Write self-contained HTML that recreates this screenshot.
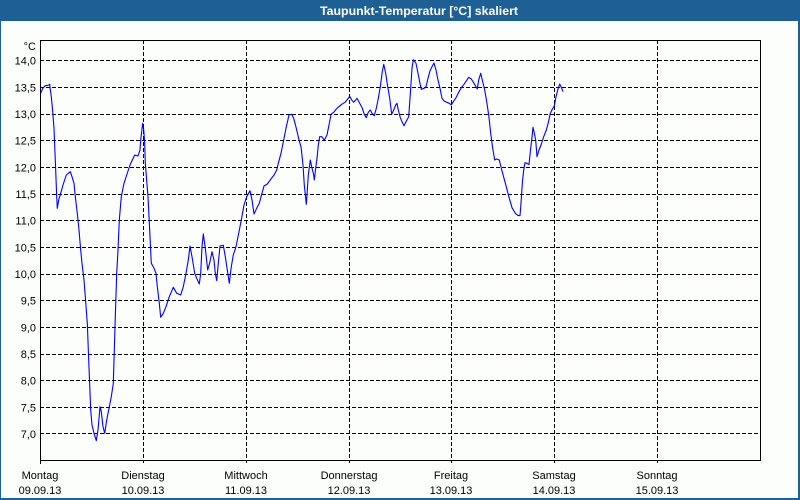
<!DOCTYPE html>
<html>
<head>
<meta charset="utf-8">
<style>
  html,body{margin:0;padding:0;background:#fcfefc;}
  svg{display:block;}
  text{font-family:"Liberation Sans", "DejaVu Sans", sans-serif;font-size:11px;fill:#000;}
</style>
</head>
<body>
<svg width="800" height="500" viewBox="0 0 800 500" xmlns="http://www.w3.org/2000/svg">
  <rect x="0" y="0" width="800" height="500" fill="#fcfefc"/>
  <!-- window frame -->
  <rect x="0" y="0" width="800" height="21" fill="#1e6094"/>
  <rect x="0" y="0" width="1" height="500" fill="#1e6094"/>
  <rect x="798" y="0" width="2" height="500" fill="#1e6094"/>
  <rect x="0" y="498" width="800" height="2" fill="#1e6094"/>
  <text x="419" y="15" text-anchor="middle" style="font-weight:bold;font-size:12px;fill:#fff" textLength="198" lengthAdjust="spacingAndGlyphs">Taupunkt-Temperatur [°C] skaliert</text>

  <!-- horizontal dashed grid -->
  <g stroke="#000" stroke-width="1" stroke-dasharray="4,2" shape-rendering="crispEdges">
    <line x1="40" y1="60.5" x2="760" y2="60.5"/>
    <line x1="40" y1="87.5" x2="760" y2="87.5"/>
    <line x1="40" y1="114.5" x2="760" y2="114.5"/>
    <line x1="40" y1="140.5" x2="760" y2="140.5"/>
    <line x1="40" y1="167.5" x2="760" y2="167.5"/>
    <line x1="40" y1="194.5" x2="760" y2="194.5"/>
    <line x1="40" y1="220.5" x2="760" y2="220.5"/>
    <line x1="40" y1="247.5" x2="760" y2="247.5"/>
    <line x1="40" y1="274.5" x2="760" y2="274.5"/>
    <line x1="40" y1="300.5" x2="760" y2="300.5"/>
    <line x1="40" y1="327.5" x2="760" y2="327.5"/>
    <line x1="40" y1="354.5" x2="760" y2="354.5"/>
    <line x1="40" y1="380.5" x2="760" y2="380.5"/>
    <line x1="40" y1="407.5" x2="760" y2="407.5"/>
    <line x1="40" y1="433.5" x2="760" y2="433.5"/>
  </g>
  <!-- vertical dashed grid -->
  <g stroke="#000" stroke-width="1" stroke-dasharray="4,2" shape-rendering="crispEdges">
    <line x1="143.5" y1="40" x2="143.5" y2="463"/>
    <line x1="246.5" y1="40" x2="246.5" y2="463"/>
    <line x1="349.5" y1="40" x2="349.5" y2="463"/>
    <line x1="451.5" y1="40" x2="451.5" y2="463"/>
    <line x1="554.5" y1="40" x2="554.5" y2="463"/>
    <line x1="657.5" y1="40" x2="657.5" y2="463"/>
  </g>
  <!-- plot frame -->
  <rect x="40.5" y="40.5" width="720" height="420" fill="none" stroke="#000" stroke-width="1" shape-rendering="crispEdges"/>
  <line x1="40.5" y1="460" x2="40.5" y2="464" stroke="#000" shape-rendering="crispEdges"/>

  <!-- y labels -->
  <g text-anchor="end">
    <text x="36" y="50">°C</text>
    <text x="36" y="64.5">14,0</text>
    <text x="36" y="91.5">13,5</text>
    <text x="36" y="118">13,0</text>
    <text x="36" y="144.5">12,5</text>
    <text x="36" y="171.5">12,0</text>
    <text x="36" y="198">11,5</text>
    <text x="36" y="224.5">11,0</text>
    <text x="36" y="251.5">10,5</text>
    <text x="36" y="278">10,0</text>
    <text x="36" y="304.5">9,5</text>
    <text x="36" y="331.5">9,0</text>
    <text x="36" y="358">8,5</text>
    <text x="36" y="384.5">8,0</text>
    <text x="36" y="411.5">7,5</text>
    <text x="36" y="438">7,0</text>
  </g>

  <!-- x labels -->
  <g text-anchor="middle">
    <text x="40" y="479">Montag</text>
    <text x="40" y="494">09.09.13</text>
    <text x="143" y="479">Dienstag</text>
    <text x="143" y="494">10.09.13</text>
    <text x="246" y="479">Mittwoch</text>
    <text x="246" y="494">11.09.13</text>
    <text x="349" y="479">Donnerstag</text>
    <text x="349" y="494">12.09.13</text>
    <text x="451" y="479">Freitag</text>
    <text x="451" y="494">13.09.13</text>
    <text x="554" y="479">Samstag</text>
    <text x="554" y="494">14.09.13</text>
    <text x="657" y="479">Sonntag</text>
    <text x="657" y="494">15.09.13</text>
  </g>

  <!-- series -->
  <polyline fill="none" stroke="#0000ff" stroke-width="1.1" stroke-linejoin="round" points="
40.7,93.3 42.7,88.3 45.3,85.7 48,85.3 49.7,84.3 50,87.3 51.3,96.7 52.7,111.7 54,128.3 55.3,160 56.7,196.7 57.3,208.3
58.7,200 60.7,193.3 63,185 66.3,175 70.3,171.7 72,176.7 74,183.3 75.3,196.7 77.3,213.3 78.7,226.7 80.7,250 82,263.3
84,280 85.3,296.7 87.3,323.3 88.7,360 90.7,410 92,425 94,433.3 96.3,440.7 98,430 100,406.7 101.3,411.7 103,426.7
104.7,433.3 106.7,420 108.7,410 111.3,396.7 113.3,383.3 115.3,316.7 116.7,273.3 118,250 119.3,220 121.3,196.7
124,183.3 126.7,175 130,165 134.7,155 138,156 140,150 140.7,140 142.7,123.3 143.7,130 144.7,143.3 145.3,163.3
148,196.7 150,236.7 151.3,263.3 154,268.3 156,273.3 157.3,286.7 159.3,303.3 160.7,317.3 163.3,313.3 166,306.7
169.3,296.7 173.3,287.3 176.7,293.3 180.7,295 183.3,286.7 186,273.3 188.3,260 190,246 192,256.7 194.7,273.3
196.7,278.3 199.3,284 200.7,273.3 202,246.7 203.3,234 205.3,248.3 207.7,270 210,261.7 212,251.7 214,260
215.3,273.3 216.7,280.7 218.3,263.3 220,246 223.3,245.3 225.3,256.7 227.3,270 229.3,283.3 231.3,266.7 233.3,255
236,246.7 238.7,233.3 241.3,220 244,205 246.7,196.7 250,190.7 252,200 254,214 256.7,208.3 259.3,203.3 262,193.3
264,186 267.3,184 270.7,179.3 274,175 276.7,170 278.3,163.3 281,153.3 283.7,140 286.3,126.7 289,115 291.7,114.3
293.7,118.3 296.3,128.3 299,140 301,146.7 303,165 304.3,185 305.7,198.3 306.3,204.3 307,195 308.3,175 310.3,160
311.7,166.7 313.7,175 314.3,180 315.7,168.3 317,158.3 318.3,145 319.7,136.7 321.7,136.7 324.3,140 327,135 329,125
331,114.3 333.7,112.3 336.3,109 339,106.7 341.7,104.3 345,102.3 347.7,99 349.7,96.3 351.7,100 353.7,102.3 357,98.3
359.7,103.3 362.3,108.3 364.3,114.3 366.3,117.7 368.3,112.3 370.3,110 372.3,113.7 374.3,115.7 376.3,108.3
378.3,98.3 380.3,86.7 382.3,71.7 383.7,64.3 385.7,73.3 387.7,86.7 389.7,98.3 391.7,114.3 393.7,110 395.7,105
397,103.3 398.3,110 400.3,117.7 402,121.7 404,125.7 406,121.7 408.7,116.7 410.7,88.3 412,68.3 413.3,59.7 416,63.3
418,73.3 420,83.3 421.3,89.3 424,88.3 426,86.7 428,78.3 430,71 432,66.7 434,63 436,70 438,80 440,88.3 442,98.3
444,101 446.7,102.3 449.3,103.3 451.3,105 453.3,101.7 456,97.7 458.7,92.3 461.3,87.7 464,84.3 466.7,80.3 468.7,77.3
471.3,79 474,83.3 476,86.7 477.3,89 478.7,80 480.7,73.3 482.7,81.7 484.7,90 486.7,101.7 488.7,115 490.7,133.3
492.7,148.3 494.7,160 496.7,159 499.3,160 501.3,168.3 504,178.3 506.7,188.3 509.3,198.3 512,207.7 515.3,213.3
517.7,215.3 520,215.7 521,203.3 522.3,183.3 523.7,170 525,162.7 527,163.3 529,164.7 530.3,151.7 531.7,140
533,127.3 534.3,133.3 535.7,140 537,156.7 539,150 541,145 543.7,136.7 546.3,130 548.3,122.7 550.3,113.3
552.3,109.3 554.3,106 555.7,98.3 557.7,90 559.7,84 561.7,88.3 563,91.7"/>
</svg>
</body>
</html>
